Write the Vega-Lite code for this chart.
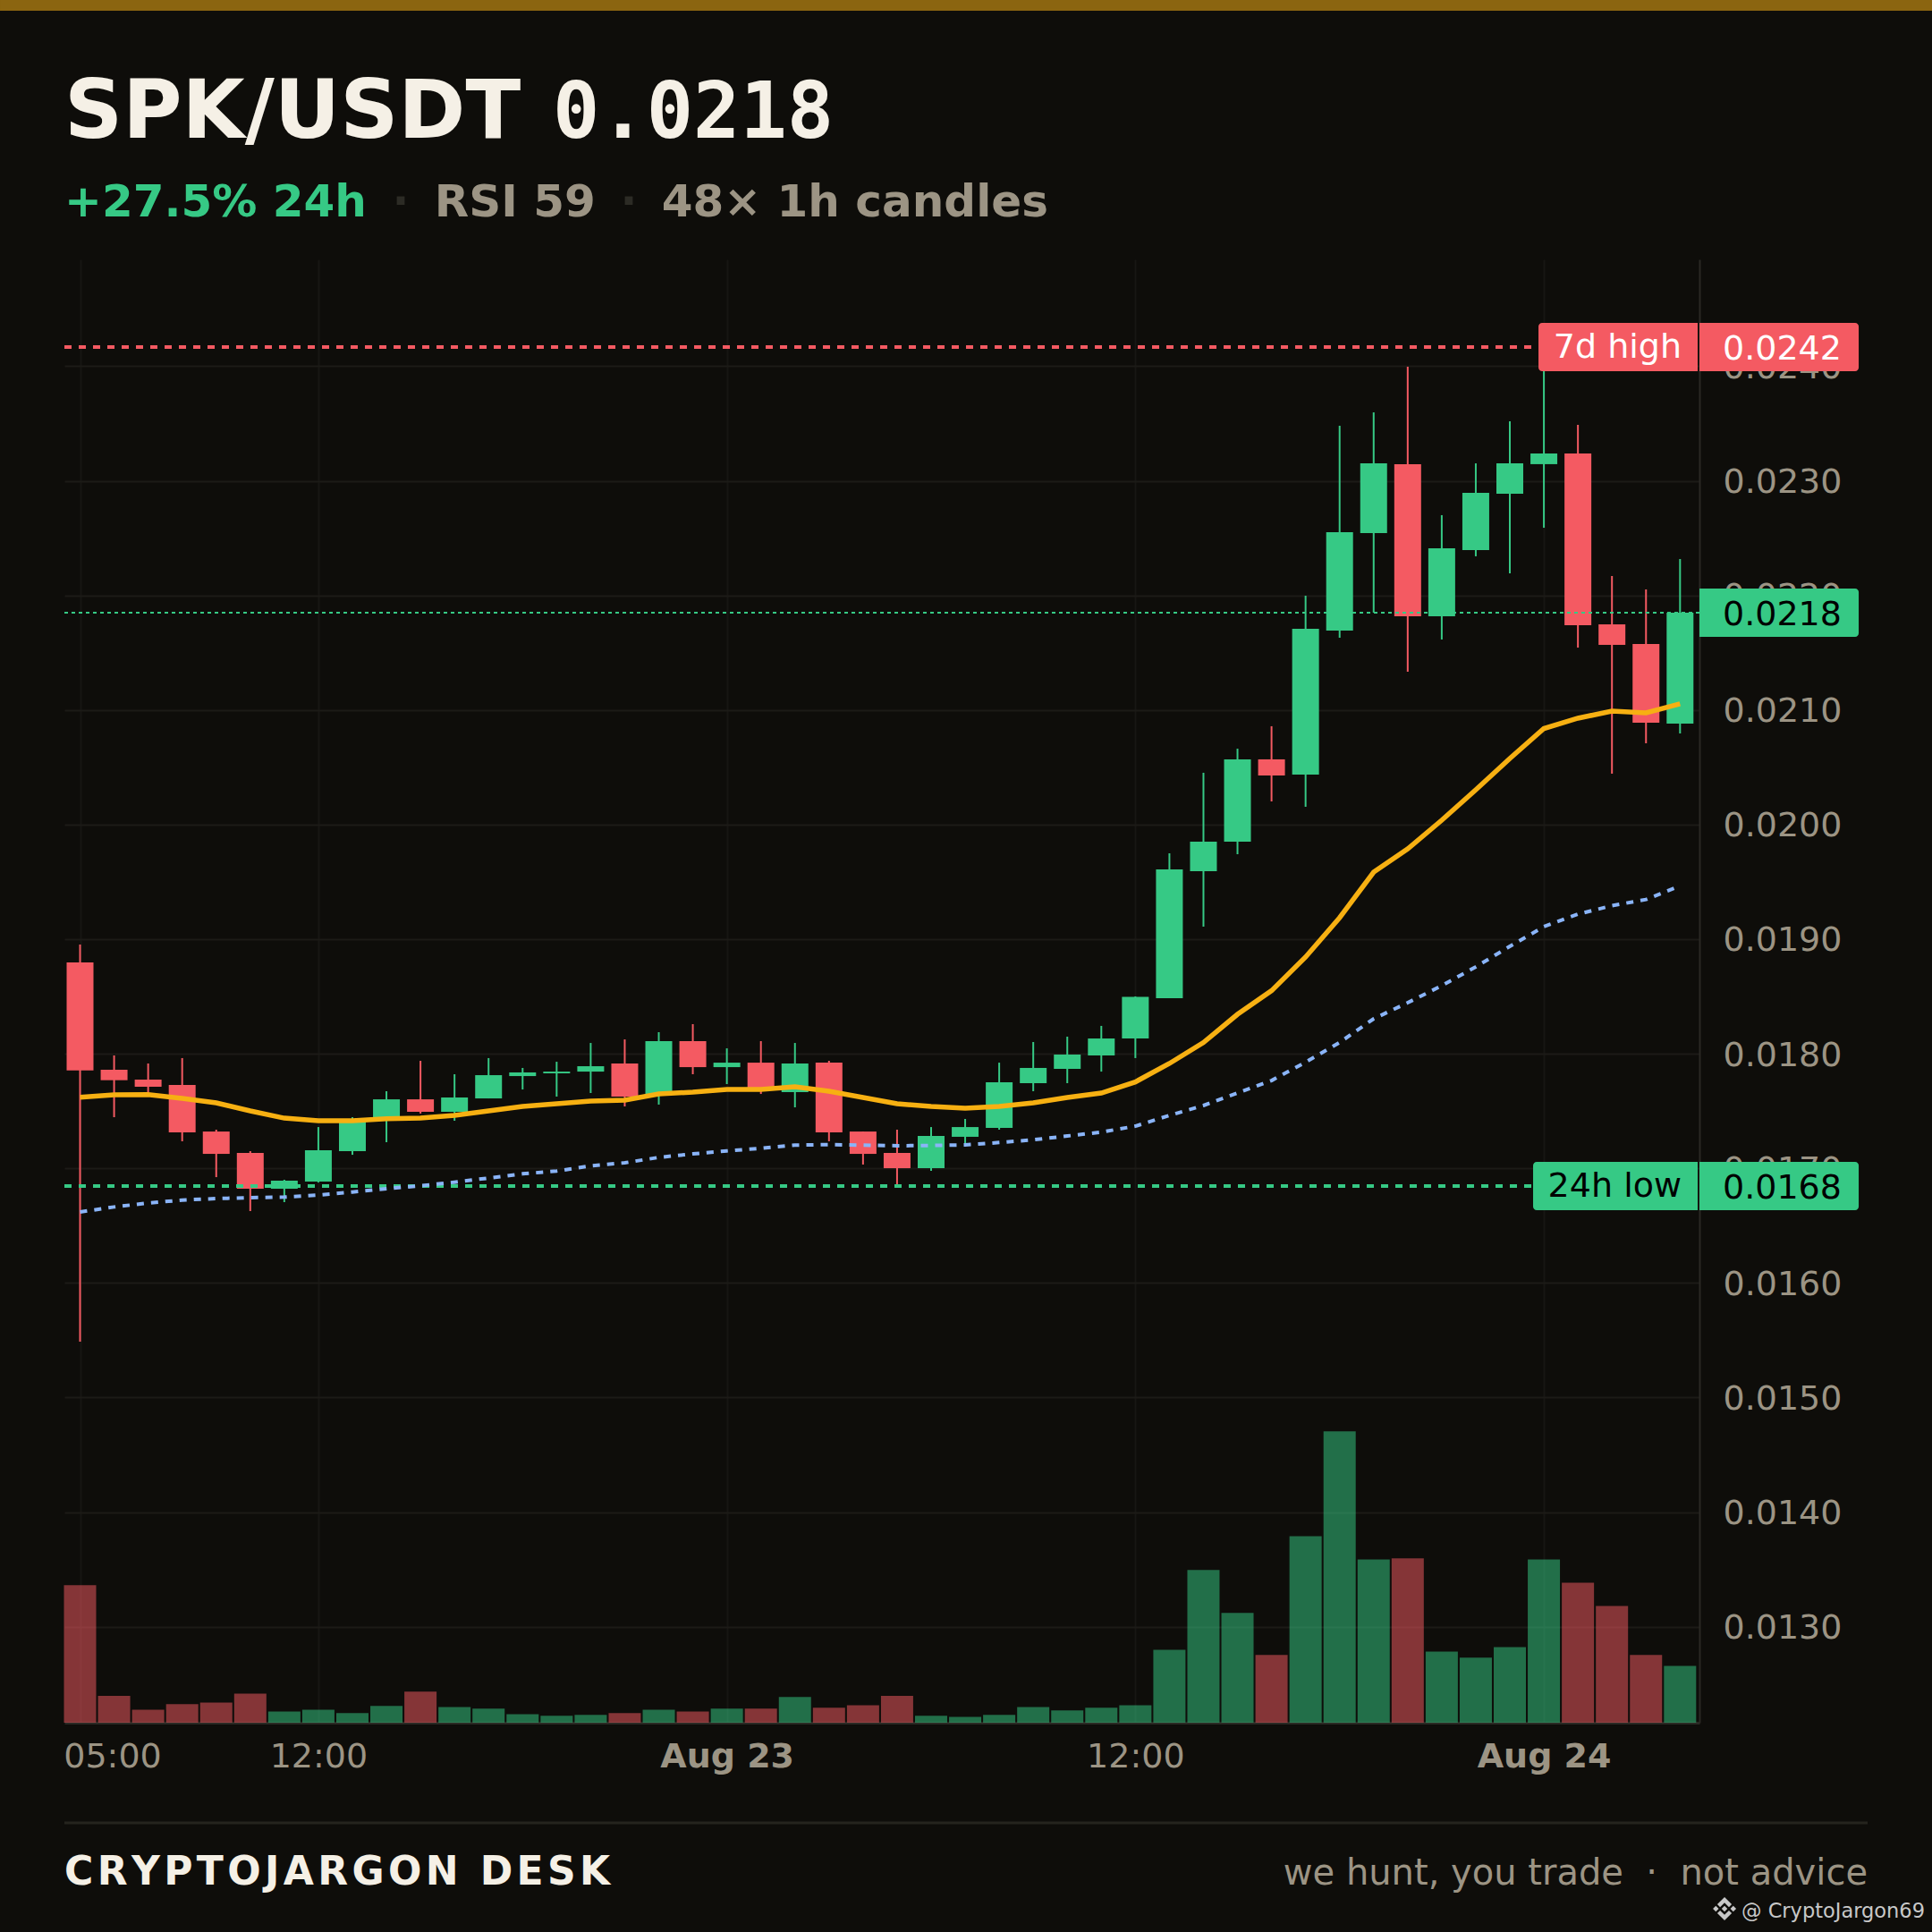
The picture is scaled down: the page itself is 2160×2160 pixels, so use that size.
{
  "$schema": "https://vega.github.io/schema/vega-lite/v6.json",
  "description": "SPK/USDT 48 x 1h candles",
  "background": "#0e0d0a",
  "autosize": {"type": "none"},
  "padding": {"left": 72, "top": 290, "right": 260, "bottom": 234},
  "width": 1828,
  "height": 1636,
  "config": {
    "view": {"stroke": null},
    "text": {"font": "DejaVu Sans"},
    "axis": {"labelFont": "DejaVu Sans", "labelFontSize": 38, "labelColor": "#9c9484", "ticks": false, "domainColor": "#2a2924"}
  },
  "datasets": {
    "candles": [
      {"t": "2025-08-22T05:00:00", "open": 0.018797, "high": 0.018953, "low": 0.015487, "close": 0.017854, "fast": 0.017620, "slow": 0.016619, "volume": 153.8},
      {"t": "2025-08-22T06:00:00", "open": 0.017860, "high": 0.017985, "low": 0.017446, "close": 0.017769, "fast": 0.017641, "slow": 0.016663, "volume": 29.9},
      {"t": "2025-08-22T07:00:00", "open": 0.017774, "high": 0.017915, "low": 0.017659, "close": 0.017712, "fast": 0.017644, "slow": 0.016697, "volume": 14.5},
      {"t": "2025-08-22T08:00:00", "open": 0.017727, "high": 0.017962, "low": 0.017236, "close": 0.017314, "fast": 0.017610, "slow": 0.016723, "volume": 20.7},
      {"t": "2025-08-22T09:00:00", "open": 0.017321, "high": 0.017337, "low": 0.016923, "close": 0.017126, "fast": 0.017571, "slow": 0.016736, "volume": 22.6},
      {"t": "2025-08-22T10:00:00", "open": 0.017134, "high": 0.017150, "low": 0.016627, "close": 0.016822, "fast": 0.017501, "slow": 0.016744, "volume": 32.5},
      {"t": "2025-08-22T11:00:00", "open": 0.016822, "high": 0.016900, "low": 0.016705, "close": 0.016892, "fast": 0.017438, "slow": 0.016749, "volume": 12.6},
      {"t": "2025-08-22T12:00:00", "open": 0.016884, "high": 0.017360, "low": 0.016876, "close": 0.017157, "fast": 0.017415, "slow": 0.016767, "volume": 14.5},
      {"t": "2025-08-22T13:00:00", "open": 0.017150, "high": 0.017446, "low": 0.017118, "close": 0.017415, "fast": 0.017415, "slow": 0.016793, "volume": 10.7},
      {"t": "2025-08-22T14:00:00", "open": 0.017438, "high": 0.017673, "low": 0.017228, "close": 0.017602, "fast": 0.017433, "slow": 0.016822, "volume": 18.8},
      {"t": "2025-08-22T15:00:00", "open": 0.017602, "high": 0.017938, "low": 0.017478, "close": 0.017493, "fast": 0.017438, "slow": 0.016848, "volume": 34.8},
      {"t": "2025-08-22T16:00:00", "open": 0.017493, "high": 0.017821, "low": 0.017415, "close": 0.017618, "fast": 0.017462, "slow": 0.016879, "volume": 17.6},
      {"t": "2025-08-22T17:00:00", "open": 0.017610, "high": 0.017962, "low": 0.017610, "close": 0.017813, "fast": 0.017501, "slow": 0.016915, "volume": 15.7},
      {"t": "2025-08-22T18:00:00", "open": 0.017805, "high": 0.017876, "low": 0.017688, "close": 0.017837, "fast": 0.017540, "slow": 0.016952, "volume": 9.6},
      {"t": "2025-08-22T19:00:00", "open": 0.017829, "high": 0.017930, "low": 0.017626, "close": 0.017844, "fast": 0.017563, "slow": 0.016976, "volume": 7.7},
      {"t": "2025-08-22T20:00:00", "open": 0.017844, "high": 0.018094, "low": 0.017657, "close": 0.017891, "fast": 0.017587, "slow": 0.017022, "volume": 8.8},
      {"t": "2025-08-22T21:00:00", "open": 0.017915, "high": 0.018125, "low": 0.017540, "close": 0.017626, "fast": 0.017595, "slow": 0.017048, "volume": 10.7},
      {"t": "2025-08-22T22:00:00", "open": 0.017649, "high": 0.018188, "low": 0.017556, "close": 0.018110, "fast": 0.017649, "slow": 0.017095, "volume": 14.5},
      {"t": "2025-08-22T23:00:00", "open": 0.018110, "high": 0.018258, "low": 0.017821, "close": 0.017883, "fast": 0.017665, "slow": 0.017126, "volume": 12.6},
      {"t": "2025-08-23T00:00:00", "open": 0.017883, "high": 0.018047, "low": 0.017735, "close": 0.017922, "fast": 0.017688, "slow": 0.017152, "volume": 15.7},
      {"t": "2025-08-23T01:00:00", "open": 0.017922, "high": 0.018110, "low": 0.017649, "close": 0.017696, "fast": 0.017688, "slow": 0.017175, "volume": 15.7},
      {"t": "2025-08-23T02:00:00", "open": 0.017665, "high": 0.018094, "low": 0.017532, "close": 0.017915, "fast": 0.017712, "slow": 0.017202, "volume": 28.7},
      {"t": "2025-08-23T03:00:00", "open": 0.017922, "high": 0.017938, "low": 0.017236, "close": 0.017314, "fast": 0.017673, "slow": 0.017207, "volume": 16.8},
      {"t": "2025-08-23T04:00:00", "open": 0.017321, "high": 0.017321, "low": 0.017033, "close": 0.017126, "fast": 0.017618, "slow": 0.017202, "volume": 19.5},
      {"t": "2025-08-23T05:00:00", "open": 0.017134, "high": 0.017337, "low": 0.016861, "close": 0.017001, "fast": 0.017563, "slow": 0.017197, "volume": 29.9},
      {"t": "2025-08-23T06:00:00", "open": 0.017001, "high": 0.017360, "low": 0.016978, "close": 0.017282, "fast": 0.017540, "slow": 0.017199, "volume": 7.7},
      {"t": "2025-08-23T07:00:00", "open": 0.017275, "high": 0.017431, "low": 0.017212, "close": 0.017360, "fast": 0.017524, "slow": 0.017204, "volume": 6.5},
      {"t": "2025-08-23T08:00:00", "open": 0.017353, "high": 0.017922, "low": 0.017337, "close": 0.017751, "fast": 0.017540, "slow": 0.017225, "volume": 8.8},
      {"t": "2025-08-23T09:00:00", "open": 0.017743, "high": 0.018102, "low": 0.017673, "close": 0.017876, "fast": 0.017571, "slow": 0.017249, "volume": 17.6},
      {"t": "2025-08-23T10:00:00", "open": 0.017868, "high": 0.018149, "low": 0.017743, "close": 0.017993, "fast": 0.017618, "slow": 0.017282, "volume": 13.8},
      {"t": "2025-08-23T11:00:00", "open": 0.017985, "high": 0.018243, "low": 0.017844, "close": 0.018133, "fast": 0.017657, "slow": 0.017316, "volume": 16.8},
      {"t": "2025-08-23T12:00:00", "open": 0.018133, "high": 0.018500, "low": 0.017962, "close": 0.018496, "fast": 0.017754, "slow": 0.017368, "volume": 19.5},
      {"t": "2025-08-23T13:00:00", "open": 0.018485, "high": 0.019749, "low": 0.018485, "close": 0.019609, "fast": 0.017915, "slow": 0.017462, "volume": 81.5},
      {"t": "2025-08-23T14:00:00", "open": 0.019593, "high": 0.020452, "low": 0.019109, "close": 0.019851, "fast": 0.018098, "slow": 0.017548, "volume": 170.7},
      {"t": "2025-08-23T15:00:00", "open": 0.019851, "high": 0.020662, "low": 0.019741, "close": 0.020569, "fast": 0.018344, "slow": 0.017657, "volume": 122.8},
      {"t": "2025-08-23T16:00:00", "open": 0.020569, "high": 0.020858, "low": 0.020202, "close": 0.020428, "fast": 0.018550, "slow": 0.017766, "volume": 75.8},
      {"t": "2025-08-23T17:00:00", "open": 0.020436, "high": 0.021997, "low": 0.020155, "close": 0.021708, "fast": 0.018844, "slow": 0.017926, "volume": 208.6},
      {"t": "2025-08-23T18:00:00", "open": 0.021693, "high": 0.023480, "low": 0.021630, "close": 0.022551, "fast": 0.019187, "slow": 0.018098, "volume": 325.7},
      {"t": "2025-08-23T19:00:00", "open": 0.022544, "high": 0.023597, "low": 0.021849, "close": 0.023152, "fast": 0.019585, "slow": 0.018305, "volume": 182.5},
      {"t": "2025-08-23T20:00:00", "open": 0.023145, "high": 0.023996, "low": 0.021334, "close": 0.021818, "fast": 0.019788, "slow": 0.018445, "volume": 183.7},
      {"t": "2025-08-23T21:00:00", "open": 0.021818, "high": 0.022700, "low": 0.021615, "close": 0.022411, "fast": 0.020038, "slow": 0.018594, "volume": 79.6},
      {"t": "2025-08-23T22:00:00", "open": 0.022395, "high": 0.023152, "low": 0.022341, "close": 0.022895, "fast": 0.020303, "slow": 0.018758, "volume": 72.7},
      {"t": "2025-08-23T23:00:00", "open": 0.022887, "high": 0.023519, "low": 0.022192, "close": 0.023152, "fast": 0.020577, "slow": 0.018937, "volume": 84.6},
      {"t": "2025-08-24T00:00:00", "open": 0.023145, "high": 0.024167, "low": 0.022590, "close": 0.023238, "fast": 0.020838, "slow": 0.019109, "volume": 182.5},
      {"t": "2025-08-24T01:00:00", "open": 0.023238, "high": 0.023488, "low": 0.021544, "close": 0.021740, "fast": 0.020928, "slow": 0.019218, "volume": 156.5},
      {"t": "2025-08-24T02:00:00", "open": 0.021747, "high": 0.022169, "low": 0.020444, "close": 0.021568, "fast": 0.020990, "slow": 0.019292, "volume": 130.5},
      {"t": "2025-08-24T03:00:00", "open": 0.021576, "high": 0.022052, "low": 0.020709, "close": 0.020889, "fast": 0.020975, "slow": 0.019346, "volume": 75.8},
      {"t": "2025-08-24T04:00:00", "open": 0.020881, "high": 0.022317, "low": 0.020795, "close": 0.021849, "fast": 0.021053, "slow": 0.019464, "volume": 63.5}
    ],
    "levels": [
      {"kind": "high", "level": 0.024167, "price": "0.0242", "name": "7d high"},
      {"kind": "current", "level": 0.021849, "price": "0.0218"},
      {"kind": "low", "level": 0.016845, "price": "0.0168", "name": "24h low"}
    ]
  },
  "data": {"name": "candles"},
  "resolve": {"scale": {"y": "independent"}},
  "layer": [
    {
      "mark": {"type": "bar", "size": 36, "opacity": 0.52},
      "encoding": {
        "x": {
          "field": "t",
          "type": "temporal",
          "title": null,
          "scale": {"domain": ["2025-08-22T04:32:24", "2025-08-24T04:34:12"], "nice": false, "padding": 0},
          "axis": {
            "values": ["2025-08-22T05:00:00", "2025-08-22T12:00:00", "2025-08-23T00:00:00", "2025-08-23T12:00:00", "2025-08-24T00:00:00"],
            "labelExpr": "hours(datum.value) == 0 ? timeFormat(datum.value, '%b %d') : timeFormat(datum.value, '%H:%M')",
            "labelFontWeight": {"condition": {"test": "hours(datum.value) == 0", "value": "bold"}, "value": "normal"},
            "labelOffset": {"condition": {"test": "hours(datum.value) == 5", "value": 36}, "value": 0},
            "labelOverlap": false,
            "labelFlush": false,
            "labelBound": false,
            "labelPadding": 19,
            "grid": true,
            "gridColor": "#171613",
            "gridWidth": 2,
            "domain": true,
            "domainWidth": 3
          }
        },
        "y": {"field": "volume", "type": "quantitative", "scale": {"domain": [0, 1636], "nice": false, "padding": 0}, "axis": null},
        "color": {"condition": {"test": "datum.close >= datum.open", "value": "#36c985"}, "value": "#f45a62"}
      }
    },
    {
      "layer": [
        {
          "mark": {"type": "rule", "strokeWidth": 2},
          "encoding": {
            "x": {"field": "t", "type": "temporal", "title": null},
            "y": {
              "field": "low",
              "type": "quantitative",
              "title": null,
              "scale": {"domain": [0.012162, 0.024932], "zero": false, "nice": false, "padding": 0},
              "axis": {
                "orient": "right",
                "values": [0.013, 0.014, 0.015, 0.016, 0.017, 0.018, 0.019, 0.02, 0.021, 0.022, 0.023, 0.024],
                "format": ".4f",
                "labelPadding": 26,
                "labelOffset": 2,
                "grid": true,
                "gridColor": "#1c1b17",
                "gridWidth": 2,
                "domain": true,
                "domainWidth": 2
              }
            },
            "y2": {"field": "high"},
            "color": {"condition": {"test": "datum.close >= datum.open", "value": "#36c985"}, "value": "#f45a62"}
          }
        },
        {
          "mark": {"type": "bar", "size": 30},
          "encoding": {
            "x": {"field": "t", "type": "temporal", "title": null},
            "y": {"field": "open", "type": "quantitative", "title": null},
            "y2": {"field": "close"},
            "color": {"condition": {"test": "datum.close >= datum.open", "value": "#36c985"}, "value": "#f45a62"}
          }
        },
        {
          "data": {"name": "levels"},
          "transform": [{"filter": "datum.kind != 'current'"}],
          "mark": {"type": "rule", "strokeWidth": 4, "strokeDash": [8, 8]},
          "encoding": {
            "x": {"datum": {"year": 2025, "month": 8, "date": 22, "hours": 4, "minutes": 32, "seconds": 24}, "type": "temporal", "title": null},
            "x2": {"datum": {"year": 2025, "month": 8, "date": 23, "hours": 23, "minutes": 37, "seconds": 54}},
            "y": {"field": "level", "type": "quantitative", "title": null},
            "color": {"condition": {"test": "datum.kind == 'high'", "value": "#f45a62"}, "value": "#36c985"}
          }
        },
        {
          "data": {"name": "levels"},
          "transform": [{"filter": "datum.kind == 'current'"}],
          "mark": {"type": "rule", "color": "#36c985", "strokeWidth": 2, "strokeDash": [4, 4]},
          "encoding": {
            "x": {"datum": {"year": 2025, "month": 8, "date": 22, "hours": 4, "minutes": 32, "seconds": 24}, "type": "temporal", "title": null},
            "x2": {"datum": {"year": 2025, "month": 8, "date": 24, "hours": 4, "minutes": 34, "seconds": 12}},
            "y": {"field": "level", "type": "quantitative", "title": null}
          }
        },
        {
          "mark": {"type": "line", "color": "#8ab4f8", "strokeWidth": 4, "strokeDash": [8, 8]},
          "encoding": {"x": {"field": "t", "type": "temporal", "title": null}, "y": {"field": "slow", "type": "quantitative", "title": null}}
        },
        {
          "mark": {"type": "line", "color": "#f7b012", "strokeWidth": 5.5},
          "encoding": {"x": {"field": "t", "type": "temporal", "title": null}, "y": {"field": "fast", "type": "quantitative", "title": null}}
        },
        {
          "data": {"name": "levels"},
          "mark": {"type": "bar", "orient": "horizontal", "size": 54, "cornerRadiusTopRight": 4, "cornerRadiusBottomRight": 4},
          "encoding": {
            "x": {"datum": {"year": 2025, "month": 8, "date": 24, "hours": 4, "minutes": 34, "seconds": 12}, "type": "temporal", "title": null},
            "x2": {"datum": {"year": 2025, "month": 8, "date": 24, "hours": 9, "minutes": 14, "seconds": 54}},
            "y": {"field": "level", "type": "quantitative", "title": null},
            "color": {"condition": {"test": "datum.kind == 'high'", "value": "#f45a62"}, "value": "#36c985"}
          }
        },
        {
          "data": {"name": "levels"},
          "transform": [{"filter": "datum.kind == 'high'"}],
          "mark": {"type": "bar", "orient": "horizontal", "size": 54, "color": "#f45a62", "cornerRadiusTopLeft": 4, "cornerRadiusBottomLeft": 4},
          "encoding": {
            "x": {"datum": {"year": 2025, "month": 8, "date": 23, "hours": 23, "minutes": 50, "seconds": 30}, "type": "temporal", "title": null},
            "x2": {"datum": {"year": 2025, "month": 8, "date": 24, "hours": 4, "minutes": 31, "seconds": 6}},
            "y": {"field": "level", "type": "quantitative", "title": null}
          }
        },
        {
          "data": {"name": "levels"},
          "transform": [{"filter": "datum.kind == 'low'"}],
          "mark": {"type": "bar", "orient": "horizontal", "size": 54, "color": "#36c985", "cornerRadiusTopLeft": 4, "cornerRadiusBottomLeft": 4},
          "encoding": {
            "x": {"datum": {"year": 2025, "month": 8, "date": 23, "hours": 23, "minutes": 41, "seconds": 0}, "type": "temporal", "title": null},
            "x2": {"datum": {"year": 2025, "month": 8, "date": 24, "hours": 4, "minutes": 31, "seconds": 6}},
            "y": {"field": "level", "type": "quantitative", "title": null}
          }
        },
        {
          "data": {"name": "levels"},
          "mark": {"type": "text", "align": "left", "baseline": "middle", "fontSize": 38, "dy": 3},
          "encoding": {
            "x": {"datum": {"year": 2025, "month": 8, "date": 24, "hours": 5, "minutes": 15, "seconds": 12}, "type": "temporal", "title": null},
            "y": {"field": "level", "type": "quantitative", "title": null},
            "text": {"field": "price"},
            "color": {"condition": {"test": "datum.kind == 'high'", "value": "#ffffff"}, "value": "#000000"}
          }
        },
        {
          "data": {"name": "levels"},
          "transform": [{"filter": "datum.kind != 'current'"}],
          "mark": {"type": "text", "align": "right", "baseline": "middle", "fontSize": 38, "dy": 1},
          "encoding": {
            "x": {"datum": {"year": 2025, "month": 8, "date": 24, "hours": 4, "minutes": 2, "seconds": 42}, "type": "temporal", "title": null},
            "y": {"field": "level", "type": "quantitative", "title": null},
            "text": {"field": "name"},
            "color": {"condition": {"test": "datum.kind == 'high'", "value": "#ffffff"}, "value": "#000000"}
          }
        },
        {
          "data": {"values": [{}]},
          "mark": {"type": "rect", "color": "#8b6510"},
          "encoding": {
            "x": {"datum": {"year": 2025, "month": 8, "date": 22, "hours": 2, "minutes": 38, "seconds": 54}, "type": "temporal", "title": null},
            "x2": {"datum": {"year": 2025, "month": 8, "date": 24, "hours": 11, "minutes": 24, "seconds": 12}},
            "y": {"datum": 0.027196, "type": "quantitative", "title": null},
            "y2": {"datum": 0.027102}
          }
        },
        {
          "data": {"values": [{"label": "SPK/USDT"}]},
          "mark": {"type": "text", "align": "left", "baseline": "alphabetic", "fontSize": 90.5, "fontWeight": "bold", "color": "#f5f0e6"},
          "encoding": {
            "x": {"datum": {"year": 2025, "month": 8, "date": 22, "hours": 4, "minutes": 32, "seconds": 24}, "type": "temporal", "title": null},
            "y": {"datum": 0.025994, "type": "quantitative", "title": null},
            "text": {"field": "label"}
          }
        },
        {
          "data": {"values": [{"label": "0.0218"}]},
          "mark": {"type": "text", "align": "left", "baseline": "alphabetic", "font": "DejaVu Sans Mono", "fontSize": 87, "fontWeight": "bold", "color": "#f5f0e6"},
          "encoding": {
            "x": {"datum": {"year": 2025, "month": 8, "date": 22, "hours": 18, "minutes": 53, "seconds": 0}, "type": "temporal", "title": null},
            "y": {"datum": 0.025994, "type": "quantitative", "title": null},
            "text": {"field": "label"}
          }
        },
        {
          "data": {"values": [{"label": "+27.5% 24h"}]},
          "mark": {"type": "text", "align": "left", "baseline": "alphabetic", "fontSize": 50, "fontWeight": "bold", "color": "#36c985"},
          "encoding": {
            "x": {"datum": {"year": 2025, "month": 8, "date": 22, "hours": 4, "minutes": 32, "seconds": 24}, "type": "temporal", "title": null},
            "y": {"datum": 0.025307, "type": "quantitative", "title": null},
            "text": {"field": "label"}
          }
        },
        {
          "data": {"values": [{"label": "·", "at": "2025-08-22T14:25:12"}, {"label": "·", "at": "2025-08-22T21:07:12"}]},
          "mark": {"type": "text", "align": "center", "baseline": "alphabetic", "fontSize": 50, "fontWeight": "bold", "color": "#2c2b25"},
          "encoding": {
            "x": {"field": "at", "type": "temporal", "title": null},
            "y": {"datum": 0.025307, "type": "quantitative", "title": null},
            "text": {"field": "label"}
          }
        },
        {
          "data": {"values": [{"label": "RSI 59", "at": "2025-08-22T15:24:30"}, {"label": "48× 1h candles", "at": "2025-08-22T22:05:00"}]},
          "mark": {"type": "text", "align": "left", "baseline": "alphabetic", "fontSize": 50, "fontWeight": "bold", "color": "#9c9484"},
          "encoding": {
            "x": {"field": "at", "type": "temporal", "title": null},
            "y": {"datum": 0.025307, "type": "quantitative", "title": null},
            "text": {"field": "label"}
          }
        },
        {
          "data": {"values": [{}]},
          "mark": {"type": "rule", "color": "#25241e", "strokeWidth": 3},
          "encoding": {
            "x": {"datum": {"year": 2025, "month": 8, "date": 22, "hours": 4, "minutes": 32, "seconds": 24}, "type": "temporal", "title": null},
            "x2": {"datum": {"year": 2025, "month": 8, "date": 24, "hours": 9, "minutes": 30, "seconds": 36}},
            "y": {"datum": 0.011287, "type": "quantitative", "title": null}
          }
        },
        {
          "data": {"values": [{"label": "C\u200aR\u200aY\u200aP\u200aT\u200aO\u200aJ\u200aA\u200aR\u200aG\u200aO\u200aN\u200a \u200aD\u200aE\u200aS\u200aK"}]},
          "mark": {"type": "text", "align": "left", "baseline": "alphabetic", "fontSize": 44, "fontWeight": "bold", "color": "#f5f0e6"},
          "encoding": {
            "x": {"datum": {"year": 2025, "month": 8, "date": 22, "hours": 4, "minutes": 32, "seconds": 24}, "type": "temporal", "title": null},
            "y": {"datum": 0.010752, "type": "quantitative", "title": null},
            "text": {"field": "label"}
          }
        },
        {
          "data": {"values": [{"label": "we hunt, you trade \u00a0·\u00a0 not advice"}]},
          "mark": {"type": "text", "align": "right", "baseline": "alphabetic", "fontSize": 40, "color": "#9c9484"},
          "encoding": {
            "x": {"datum": {"year": 2025, "month": 8, "date": 24, "hours": 9, "minutes": 30, "seconds": 36}, "type": "temporal", "title": null},
            "y": {"datum": 0.010752, "type": "quantitative", "title": null},
            "text": {"field": "label"}
          }
        },
        {
          "data": {"values": [{"label": "@ CryptoJargon69"}]},
          "mark": {"type": "text", "align": "right", "baseline": "alphabetic", "fontSize": 22.5, "color": "#c8c8c8"},
          "encoding": {
            "x": {"datum": {"year": 2025, "month": 8, "date": 24, "hours": 11, "minutes": 11, "seconds": 30}, "type": "temporal", "title": null},
            "y": {"datum": 0.010463, "type": "quantitative", "title": null},
            "text": {"field": "label"}
          }
        },
        {
          "data": {"values": [{}]},
          "mark": {
            "type": "point",
            "filled": true,
            "size": 676,
            "color": "#c8c8c8",
            "opacity": 1,
            "strokeWidth": 0,
            "shape": "M0,-1L.62,-.38L.38,-.14L0,-.52L-.38,-.14L-.62,-.38ZM0,1L.62,.38L.38,.14L0,.52L-.38,.14L-.62,.38ZM0,-.25L.25,0L0,.25L-.25,0ZM-.75,-.25L-.5,0L-.75,.25L-1,0ZM.75,-.25L1,0L.75,.25L.5,0Z"
          },
          "encoding": {
            "x": {"datum": {"year": 2025, "month": 8, "date": 24, "hours": 5, "minutes": 18, "seconds": 24}, "type": "temporal", "title": null},
            "y": {"datum": 0.010538, "type": "quantitative", "title": null}
          }
        }
      ]
    }
  ]
}
